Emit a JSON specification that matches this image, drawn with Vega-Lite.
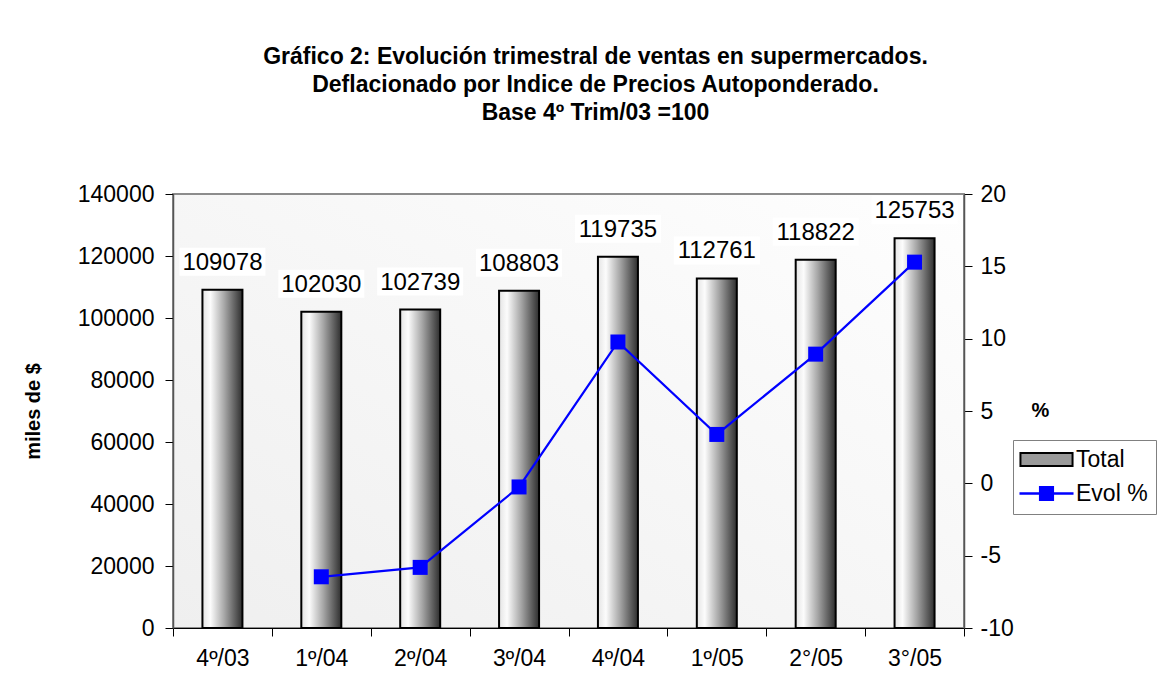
{
  "$schema": "https://vega.github.io/schema/vega-lite/v6.json",
  "width": 791,
  "height": 434,
  "autosize": {"type": "none"},
  "padding": {"left": 173, "top": 194, "right": 210, "bottom": 52},
  "config": {
    "font": "Liberation Sans",
    "view": {"stroke": "#8c8c8c", "strokeWidth": 2}
  },
  "view": {
    "fill": {"gradient": "linear", "x1": 0, "y1": 1, "x2": 1, "y2": 0,
      "stops": [{"offset": 0, "color": "#efefef"}, {"offset": 1, "color": "#fefefe"}]}
  },
  "title": {
    "text": ["Gráfico 2: Evolución trimestral de ventas en supermercados.", "Deflacionado por Indice de Precios Autoponderado.", "Base 4º Trim/03 =100"],
    "fontSize": 23, "fontWeight": "bold", "lineHeight": 28, "anchor": "middle", "dx": 27, "offset": 58, "color": "black", "font": "Liberation Sans"
  },
  "data": {"values": [
    {"q": "4º/03", "total": 109078, "evol": null},
    {"q": "1º/04", "total": 102030, "evol": -6.46},
    {"q": "2º/04", "total": 102739, "evol": -5.81},
    {"q": "3º/04", "total": 108803, "evol": -0.25},
    {"q": "4º/04", "total": 119735, "evol": 9.77},
    {"q": "1º/05", "total": 112761, "evol": 3.38},
    {"q": "2°/05", "total": 118822, "evol": 8.93},
    {"q": "3°/05", "total": 125753, "evol": 15.29}
  ]},
  "encoding": {
    "x": {"field": "q", "type": "ordinal", "sort": null,
      "scale": {"paddingInner": 0, "paddingOuter": 0},
      "axis": {"title": null, "labelAngle": 0, "labelFontSize": 23, "labelColor": "black", "tickBand": "extent", "tickSize": 8, "tickColor": "black", "domainColor": "black", "labelPadding": 11}}
  },
  "layer": [
    {
      "encoding": {
        "y": {"field": "total", "type": "quantitative",
          "scale": {"domain": [0, 140000], "nice": false},
          "axis": {"values": [0, 20000, 40000, 60000, 80000, 100000, 120000, 140000], "grid": false, "format": "d",
            "title": "miles de $", "titleFontSize": 20, "titleFontWeight": "bold", "titleColor": "black",
            "titleAngle": -90, "titleX": -140, "titleY": 217, "titleAlign": "center", "titleBaseline": "middle",
            "labelFontSize": 23, "labelColor": "black", "tickSize": 8, "tickColor": "black", "domainColor": "#555", "domainWidth": 1.5, "labelPadding": 11}}
      },
      "layer": [
        {
          "mark": {"type": "bar", "width": 40},
          "encoding": {
            "fill": {"datum": "Total", "type": "nominal",
              "scale": {"domain": ["Total", "Evol %"], "range": ["#9a9a9a", "blue"]},
              "legend": {
                "title": null, "orient": "none", "legendX": 840, "legendY": 246,
                "strokeColor": "#808080", "fillColor": "white", "padding": 8,
                "labelFontSize": 23, "labelColor": "black", "labelFont": "Liberation Sans",
                "symbolSize": 784, "rowPadding": 10, "labelOffset": 18, "symbolOffset": 14,
                "symbolOpacity": 1, "symbolStrokeColor": "black",
                "symbolType": {"expr": "datum.value === 'Total' ? 'M-1.86,-0.46H1.86V0.46H-1.86Z' : 'M-1.93,-0.09H-0.54V-0.54H0.54V-0.09H1.93V0.09H0.54V0.54H-0.54V0.09H-1.93Z'"},
                "symbolStrokeWidth": {"expr": "datum.value === 'Total' ? 2 : 0"}
              }}
          }
        },
        {
          "mark": {"type": "bar", "width": 40, "strokeWidth": 2, "stroke": "black",
            "fill": {"gradient": "linear", "x1": 0, "y1": 0, "x2": 1, "y2": 0,
              "stops": [{"offset": 0, "color": "#e4e4e4"}, {"offset": 0.2, "color": "#fcfcfc"}, {"offset": 0.55, "color": "#a6a6a6"}, {"offset": 1, "color": "#2e2e2e"}]}},
          "encoding": {}
        },
        {
          "mark": {"type": "tick", "color": "white", "opacity": 1, "thickness": 28, "size": 86, "yOffset": -28},
          "encoding": {}
        },
        {
          "mark": {"type": "text", "fontSize": 24, "color": "black", "baseline": "alphabetic", "dy": -20},
          "encoding": {"text": {"field": "total", "type": "quantitative", "format": "d"}}
        }
      ]
    },
    {
      "mark": {"type": "line", "strokeWidth": 2.2, "stroke": "blue",
        "point": {"shape": "square", "size": 225, "filled": true, "fill": "blue", "strokeWidth": 0}},
      "encoding": {
        "y": {"field": "evol", "type": "quantitative",
          "scale": {"domain": [-10, 20], "nice": false},
          "axis": {"orient": "right", "values": [-10, -5, 0, 5, 10, 15, 20], "grid": false, "labelExpr": "'' + datum.value",
            "title": "%", "titleFontSize": 20, "titleFontWeight": "bold", "titleColor": "black",
            "titleAngle": 0, "titleX": 76, "titleY": 216, "titleAlign": "center", "titleBaseline": "middle",
            "labelFontSize": 23, "labelColor": "black", "tickSize": 8, "tickColor": "black", "domainColor": "#555", "domainWidth": 1.5, "labelPadding": 8}}
      }
    }
  ],
  "resolve": {"scale": {"y": "independent"}}
}
